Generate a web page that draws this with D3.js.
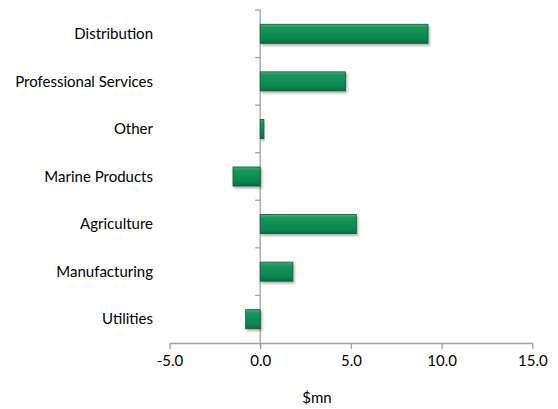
<!DOCTYPE html>
<html>
<head>
<meta charset="utf-8">
<script src="https://cdn.jsdelivr.net/npm/d3@7"></script>
<style>
  html, body { margin: 0; padding: 0; background: #fff; }
  svg { display: block; font-family: Lato, "Open Sans", sans-serif; }
</style>
</head>
<body>
<svg id="chart" width="558" height="409"></svg>
<script>
// Sector contributions ($mn)
const categories = ["Distribution", "Professional Services", "Other", "Marine Products",
                    "Agriculture", "Manufacturing", "Utilities"];
const values = [9.25, 4.7, 0.2, -1.5, 5.3, 1.8, -0.8];
const xTicks = [-5, 0, 5, 10, 15];
const xTitle = "$mn";

const svg = d3.select("#chart");
const plotLeft = 169.5, plotRight = 532.3, plotTop = 10, plotBottom = 343;
const fontSize = 15;

const x = d3.scaleLinear().domain([-5, 15]).range([plotLeft, plotRight]);
const y = d3.scaleBand().domain(categories).range([plotTop, plotBottom]).paddingInner(0.6).paddingOuter(0.3);

const defs = svg.append("defs");
const grad = defs.append("linearGradient").attr("id", "barGrad")
  .attr("x1", 0).attr("y1", 0).attr("x2", 0).attr("y2", 1);
grad.append("stop").attr("offset", "0%").attr("stop-color", "#3fb37a");
grad.append("stop").attr("offset", "18%").attr("stop-color", "#169658");
grad.append("stop").attr("offset", "75%").attr("stop-color", "#0d8650");
grad.append("stop").attr("offset", "100%").attr("stop-color", "#0a6b3e");

const shadow = defs.append("filter").attr("id", "shadow")
  .attr("x", "-10%").attr("y", "-30%").attr("width", "130%").attr("height", "170%");
shadow.append("feDropShadow").attr("dx", 1.5).attr("dy", 2).attr("stdDeviation", 1.3)
  .attr("flood-color", "#000").attr("flood-opacity", 0.3);

const axisColor = "#a0a0a0";

// category axis (vertical line at zero, ticks between bands)
const bandStep = (plotBottom - plotTop) / categories.length;
svg.append("line").attr("x1", x(0)).attr("x2", x(0)).attr("y1", plotTop).attr("y2", plotBottom + 4)
  .attr("stroke", axisColor).attr("stroke-width", 1.3);
d3.range(categories.length).forEach(i => {
  svg.append("line").attr("x1", x(0) - 5).attr("x2", x(0))
    .attr("y1", plotTop + i * bandStep).attr("y2", plotTop + i * bandStep)
    .attr("stroke", axisColor).attr("stroke-width", 1.3);
});

// value axis (plain hyphen for negatives)
const fmt = d => d3.format(".1f")(d).replace("\u2212", "-");
const xAxis = d3.axisBottom(x).tickValues(xTicks).tickFormat(fmt)
  .tickSize(6).tickSizeOuter(0).tickPadding(6);
const gx = svg.append("g").attr("transform", `translate(0,${plotBottom})`).call(xAxis);
gx.select(".domain").attr("stroke", axisColor).attr("stroke-width", 1.3);
gx.selectAll(".tick line").attr("stroke", axisColor).attr("stroke-width", 1.3);
gx.selectAll(".tick text").attr("fill", "#000").attr("font-size", fontSize)
  .attr("font-family", "Lato, sans-serif");

// bars
svg.append("g").selectAll("rect").data(categories).join("rect")
  .attr("x", (d, i) => x(Math.min(0, values[i])))
  .attr("width", (d, i) => Math.abs(x(values[i]) - x(0)))
  .attr("y", d => y(d))
  .attr("height", y.bandwidth())
  .attr("fill", "url(#barGrad)")
  .attr("stroke", "#0b5a35").attr("stroke-width", 0.8)
  .attr("filter", "url(#shadow)");

// category labels
svg.append("g").selectAll("text").data(categories).join("text")
  .attr("x", 153).attr("y", d => y(d) + y.bandwidth() / 2)
  .attr("dy", "0.35em").attr("text-anchor", "end")
  .attr("font-size", fontSize).attr("fill", "#000")
  .text(d => d);

// axis title
svg.append("text").attr("x", 317).attr("y", 403)
  .attr("text-anchor", "middle").attr("font-size", fontSize).attr("fill", "#000")
  .text(xTitle);
</script>
</body>
</html>
